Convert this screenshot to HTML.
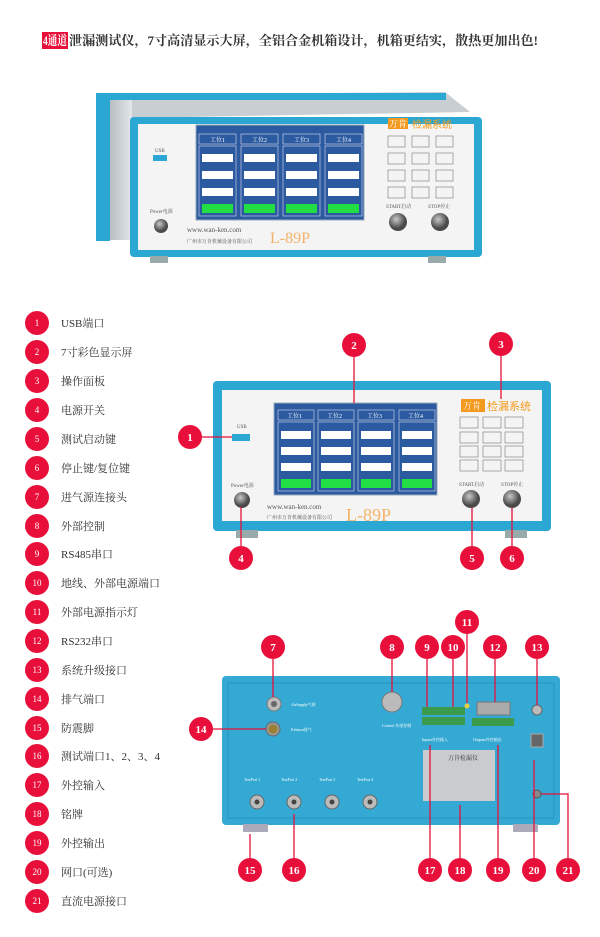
<!DOCTYPE html>
<html><head><meta charset="utf-8"><style>
html,body{margin:0;padding:0;background:#fff;width:600px;height:937px;overflow:hidden}
svg{display:block}
text{font-family:"Liberation Serif","Noto Serif CJK SC",serif}
.s{font-family:"Liberation Sans","Noto Sans CJK SC",sans-serif}
</style></head><body>
<svg width="600" height="937" viewBox="0 0 600 937" xmlns="http://www.w3.org/2000/svg">
<defs>
<linearGradient id="side" x1="0" x2="1"><stop offset="0" stop-color="#b8bec4"/><stop offset="1" stop-color="#e4e7ea"/></linearGradient>
<radialGradient id="knob" cx="0.4" cy="0.35"><stop offset="0" stop-color="#c8c8c8"/><stop offset="1" stop-color="#4a4a4a"/></radialGradient>
</defs>
<!-- header -->
<rect x="42" y="32" width="26" height="17" fill="#e8103a"/>
<text x="43" y="45" font-size="13" font-weight="bold" fill="#fff" textLength="24" lengthAdjust="spacingAndGlyphs">4通道</text>
<text x="69" y="45" font-size="13" font-weight="bold" fill="#333" textLength="469" lengthAdjust="spacingAndGlyphs">泄漏测试仪，7寸高清显示大屏，全铝合金机箱设计，机箱更结实，散热更加出色!</text>

<!-- TOP DEVICE -->
<polygon points="98,95 445,92 470,112 130,118" fill="#c9ced3"/>
<rect x="96" y="93" width="14" height="148" fill="#2aa7d2"/>
<rect x="110" y="100" width="22" height="140" fill="url(#side)"/>
<rect x="96" y="93" width="350" height="7" fill="#2aa7d2"/>
<rect x="130" y="117" width="352" height="140" rx="4" fill="#2aa7d2"/>
<rect x="138" y="124" width="336" height="126" fill="#f3f4f3"/>
<rect x="150" y="256" width="18" height="7" fill="#9aa"/><rect x="428" y="256" width="18" height="7" fill="#9aa"/>
<rect x="196" y="125" width="168" height="95" fill="#2c5aa0" stroke="#9ab" stroke-width="1"/>
<g font-size="6" fill="#fff">
<g id="tc">
<rect x="199" y="134" width="37" height="10" fill="none" stroke="#dde" stroke-width=".6"/>
<rect x="199" y="146" width="37" height="70" fill="none" stroke="#dde" stroke-width=".6"/>
<rect x="202" y="154" width="31" height="8" fill="#fff"/>
<rect x="202" y="171" width="31" height="8" fill="#fff"/>
<rect x="202" y="188" width="31" height="8" fill="#fff"/>
<rect x="202" y="204" width="31" height="9" fill="#22dd44"/>
</g>
<use href="#tc" x="42"/><use href="#tc" x="84"/><use href="#tc" x="126"/>
<text x="210" y="142">工位1</text><text x="252" y="142">工位2</text><text x="294" y="142">工位3</text><text x="336" y="142">工位4</text>
</g>
<rect x="388" y="118" width="20" height="11" fill="#f39a1e"/><text x="389" y="127" font-size="9" fill="#fff">万肯</text>
<text x="412" y="128" font-size="10" fill="#f39a1e" class="s">检漏系统</text>
<g fill="none" stroke="#888" stroke-width=".7">
<rect x="388" y="136" width="17" height="11"/><rect x="412" y="136" width="17" height="11"/><rect x="436" y="136" width="17" height="11"/>
<rect x="388" y="153" width="17" height="11"/><rect x="412" y="153" width="17" height="11"/><rect x="436" y="153" width="17" height="11"/>
<rect x="388" y="170" width="17" height="11"/><rect x="412" y="170" width="17" height="11"/><rect x="436" y="170" width="17" height="11"/>
<rect x="388" y="187" width="17" height="11"/><rect x="412" y="187" width="17" height="11"/><rect x="436" y="187" width="17" height="11"/>
</g>
<text x="155" y="152" font-size="5" fill="#555">USB</text><rect x="153" y="155" width="14" height="6" fill="#2aa7d2"/>
<text x="150" y="213" font-size="5" fill="#555">Power电源</text>
<circle cx="161" cy="226" r="7" fill="url(#knob)"/>
<text x="386" y="208" font-size="5" fill="#555">START启动</text><text x="428" y="208" font-size="5" fill="#555">STOP停止</text>
<circle cx="398" cy="222" r="9" fill="url(#knob)"/><circle cx="440" cy="222" r="9" fill="url(#knob)"/>
<text x="187" y="232" font-size="7" fill="#555">www.wan-ken.com</text>
<text x="187" y="243" font-size="5" fill="#555">广州市万肯机械设备有限公司</text>
<text x="270" y="243" font-size="16" fill="#f3b36a">L-89P</text>

<!-- LIST -->
<g font-size="9" fill="#fff" text-anchor="middle" class="s">
<circle cx="37" cy="323" r="12" fill="#e8103a"/><text x="37" y="326">1</text>
<circle cx="37" cy="352" r="12" fill="#e8103a"/><text x="37" y="355">2</text>
<circle cx="37" cy="381" r="12" fill="#e8103a"/><text x="37" y="384">3</text>
<circle cx="37" cy="410" r="12" fill="#e8103a"/><text x="37" y="413">4</text>
<circle cx="37" cy="439" r="12" fill="#e8103a"/><text x="37" y="442">5</text>
<circle cx="37" cy="468" r="12" fill="#e8103a"/><text x="37" y="471">6</text>
<circle cx="37" cy="497" r="12" fill="#e8103a"/><text x="37" y="500">7</text>
<circle cx="37" cy="526" r="12" fill="#e8103a"/><text x="37" y="529">8</text>
<circle cx="37" cy="554" r="12" fill="#e8103a"/><text x="37" y="557">9</text>
<circle cx="37" cy="583" r="12" fill="#e8103a"/><text x="37" y="586">10</text>
<circle cx="37" cy="612" r="12" fill="#e8103a"/><text x="37" y="615">11</text>
<circle cx="37" cy="641" r="12" fill="#e8103a"/><text x="37" y="644">12</text>
<circle cx="37" cy="670" r="12" fill="#e8103a"/><text x="37" y="673">13</text>
<circle cx="37" cy="699" r="12" fill="#e8103a"/><text x="37" y="702">14</text>
<circle cx="37" cy="728" r="12" fill="#e8103a"/><text x="37" y="731">15</text>
<circle cx="37" cy="756" r="12" fill="#e8103a"/><text x="37" y="759">16</text>
<circle cx="37" cy="785" r="12" fill="#e8103a"/><text x="37" y="788">17</text>
<circle cx="37" cy="814" r="12" fill="#e8103a"/><text x="37" y="817">18</text>
<circle cx="37" cy="843" r="12" fill="#e8103a"/><text x="37" y="846">19</text>
<circle cx="37" cy="872" r="12" fill="#e8103a"/><text x="37" y="875">20</text>
<circle cx="37" cy="901" r="12" fill="#e8103a"/><text x="37" y="904">21</text>
</g>
<g font-size="11" fill="#333">
<text x="61" y="327">USB端口</text><text x="61" y="356">7寸彩色显示屏</text><text x="61" y="385">操作面板</text>
<text x="61" y="414">电源开关</text><text x="61" y="443">测试启动键</text><text x="61" y="472">停止键/复位键</text>
<text x="61" y="501">进气源连接头</text><text x="61" y="530">外部控制</text><text x="61" y="558">RS485串口</text>
<text x="61" y="587">地线、外部电源端口</text><text x="61" y="616">外部电源指示灯</text><text x="61" y="645">RS232串口</text>
<text x="61" y="674">系统升级接口</text><text x="61" y="703">排气端口</text><text x="61" y="732">防震脚</text>
<text x="61" y="760">测试端口1、2、3、4</text><text x="61" y="789">外控输入</text><text x="61" y="818">铭牌</text>
<text x="61" y="847">外控输出</text><text x="61" y="876">网口(可选)</text><text x="61" y="905">直流电源接口</text>
</g>

<!-- MIDDLE DEVICE -->
<rect x="213" y="381" width="338" height="150" rx="4" fill="#2aa7d2"/>
<rect x="222" y="390" width="320" height="131" fill="#f3f4f3"/>
<rect x="236" y="530" width="22" height="8" fill="#9aa"/><rect x="505" y="530" width="22" height="8" fill="#9aa"/>
<rect x="274" y="403" width="163" height="92" fill="#2c5aa0" stroke="#9ab"/>
<g font-size="6" fill="#fff">
<g id="mc">
<rect x="278" y="410" width="36" height="10" fill="none" stroke="#dde" stroke-width=".6"/>
<rect x="278" y="422" width="36" height="69" fill="none" stroke="#dde" stroke-width=".6"/>
<rect x="281" y="431" width="30" height="8" fill="#fff"/>
<rect x="281" y="447" width="30" height="8" fill="#fff"/>
<rect x="281" y="463" width="30" height="8" fill="#fff"/>
<rect x="281" y="479" width="30" height="9" fill="#22dd44"/>
</g>
<use href="#mc" x="40"/><use href="#mc" x="80"/><use href="#mc" x="121"/>
<text x="287" y="418">工位1</text><text x="327" y="418">工位2</text><text x="367" y="418">工位3</text><text x="408" y="418">工位4</text>
</g>
<rect x="461" y="399" width="24" height="13" fill="#f39a1e"/><text x="463" y="409" font-size="9" fill="#fff">万肯</text>
<text x="487" y="410" font-size="11" fill="#f39a1e" class="s">检漏系统</text>
<g fill="none" stroke="#888" stroke-width=".7">
<rect x="460" y="417" width="18" height="11"/><rect x="483" y="417" width="18" height="11"/><rect x="505" y="417" width="18" height="11"/>
<rect x="460" y="432" width="18" height="11"/><rect x="483" y="432" width="18" height="11"/><rect x="505" y="432" width="18" height="11"/>
<rect x="460" y="446" width="18" height="11"/><rect x="483" y="446" width="18" height="11"/><rect x="505" y="446" width="18" height="11"/>
<rect x="460" y="460" width="18" height="11"/><rect x="483" y="460" width="18" height="11"/><rect x="505" y="460" width="18" height="11"/>
</g>
<text x="237" y="428" font-size="5" fill="#555">USB</text><rect x="232" y="434" width="18" height="7" fill="#2aa7d2"/>
<text x="231" y="487" font-size="5" fill="#555">Power电源</text>
<circle cx="242" cy="500" r="8" fill="url(#knob)"/>
<text x="459" y="486" font-size="5" fill="#555">START启动</text><text x="501" y="486" font-size="5" fill="#555">STOP停止</text>
<circle cx="471" cy="499" r="9" fill="url(#knob)"/><circle cx="512" cy="499" r="9" fill="url(#knob)"/>
<text x="267" y="509" font-size="7" fill="#555">www.wan-ken.com</text>
<text x="267" y="519" font-size="5" fill="#555">广州市万肯机械设备有限公司</text>
<text x="346" y="521" font-size="18" fill="#f3b36a">L-89P</text>

<!-- BOTTOM DEVICE -->
<rect x="222" y="676" width="338" height="149" rx="4" fill="#34a9d4"/>
<rect x="228" y="683" width="326" height="135" fill="none" stroke="#2a95bd" stroke-width="1"/>
<rect x="243" y="824" width="25" height="8" fill="#aab"/><rect x="513" y="824" width="25" height="8" fill="#aab"/>
<circle cx="274" cy="704" r="7" fill="#bbb" stroke="#777"/><circle cx="274" cy="704" r="3" fill="#666"/>
<circle cx="273" cy="729" r="7" fill="#999" stroke="#666"/><circle cx="273" cy="729" r="4.5" fill="#9a8030"/>
<text x="291" y="706" font-size="4" fill="#fff">AirSupply气源</text><text x="291" y="731" font-size="4" fill="#fff">Exhaust排气</text>
<circle cx="392" cy="702" r="10" fill="#bbb" stroke="#777"/>
<rect x="422" y="707" width="43" height="8" fill="#3c9a4c"/><rect x="422" y="717" width="43" height="8" fill="#3c9a4c"/>
<rect x="472" y="718" width="42" height="8" fill="#3c9a4c"/>
<rect x="477" y="702" width="33" height="13" fill="#aaa" stroke="#777"/>
<circle cx="467" cy="706" r="2.5" fill="#e5d040"/>
<circle cx="537" cy="710" r="5" fill="#bbb" stroke="#666"/>
<rect x="531" y="734" width="12" height="13" fill="#666" stroke="#aaa"/>
<circle cx="537" cy="794" r="4" fill="#888" stroke="#555"/>
<rect x="423" y="750" width="72" height="51" fill="#c9cbcd"/>
<text x="448" y="760" font-size="6" fill="#333">万肯检漏仪</text>
<g fill="#bbb" stroke="#666"><circle cx="257" cy="802" r="7"/><circle cx="294" cy="802" r="7"/><circle cx="332" cy="802" r="7"/><circle cx="370" cy="802" r="7"/></g>
<g fill="#444"><circle cx="257" cy="802" r="2.5"/><circle cx="294" cy="802" r="2.5"/><circle cx="332" cy="802" r="2.5"/><circle cx="370" cy="802" r="2.5"/></g>
<g font-size="4" fill="#fff"><text x="244" y="781">TestPort 1</text><text x="281" y="781">TestPort 2</text><text x="319" y="781">TestPort 3</text><text x="357" y="781">TestPort 4</text>
<text x="422" y="741">Inputs外控输入</text><text x="473" y="741">Outputs外控输出</text><text x="382" y="727">Control 外部控制</text></g>

<!-- connector lines -->
<g stroke="#e8103a" stroke-width="1.3" fill="none">
<path d="M202,437 H232"/><path d="M354,357 V403"/><path d="M501,356 V399"/>
<path d="M241,507 V546"/><path d="M472,508 V546"/><path d="M512,508 V546"/>
<path d="M273,659 V697"/><path d="M392,659 V692"/><path d="M427,659 V707"/><path d="M453,659 V707"/>
<path d="M467,634 V703"/><path d="M495,659 V702"/><path d="M537,659 V705"/>
<path d="M213,729 H266"/>
<path d="M250,834 V858"/><path d="M294,814 V858"/>
<path d="M430,745 V858"/><path d="M460,805 V858"/><path d="M498,745 V858"/>
<path d="M534,760 V858"/><path d="M541,794 H568 V858"/>
</g>
<g font-size="11" font-weight="bold" fill="#fff" text-anchor="middle" class="s">
<circle cx="190" cy="437" r="12" fill="#e8103a"/><text x="190" y="441">1</text>
<circle cx="354" cy="345" r="12" fill="#e8103a"/><text x="354" y="349">2</text>
<circle cx="501" cy="344" r="12" fill="#e8103a"/><text x="501" y="348">3</text>
<circle cx="241" cy="558" r="12" fill="#e8103a"/><text x="241" y="562">4</text>
<circle cx="472" cy="558" r="12" fill="#e8103a"/><text x="472" y="562">5</text>
<circle cx="512" cy="558" r="12" fill="#e8103a"/><text x="512" y="562">6</text>
<circle cx="273" cy="647" r="12" fill="#e8103a"/><text x="273" y="651">7</text>
<circle cx="392" cy="647" r="12" fill="#e8103a"/><text x="392" y="651">8</text>
<circle cx="427" cy="647" r="12" fill="#e8103a"/><text x="427" y="651">9</text>
<circle cx="453" cy="647" r="12" fill="#e8103a"/><text x="453" y="651">10</text>
<circle cx="467" cy="622" r="12" fill="#e8103a"/><text x="467" y="626">11</text>
<circle cx="495" cy="647" r="12" fill="#e8103a"/><text x="495" y="651">12</text>
<circle cx="537" cy="647" r="12" fill="#e8103a"/><text x="537" y="651">13</text>
<circle cx="201" cy="729" r="12" fill="#e8103a"/><text x="201" y="733">14</text>
<circle cx="250" cy="870" r="12" fill="#e8103a"/><text x="250" y="874">15</text>
<circle cx="294" cy="870" r="12" fill="#e8103a"/><text x="294" y="874">16</text>
<circle cx="430" cy="870" r="12" fill="#e8103a"/><text x="430" y="874">17</text>
<circle cx="460" cy="870" r="12" fill="#e8103a"/><text x="460" y="874">18</text>
<circle cx="498" cy="870" r="12" fill="#e8103a"/><text x="498" y="874">19</text>
<circle cx="534" cy="870" r="12" fill="#e8103a"/><text x="534" y="874">20</text>
<circle cx="568" cy="870" r="12" fill="#e8103a"/><text x="568" y="874">21</text>
</g>
</svg>
</body></html>
